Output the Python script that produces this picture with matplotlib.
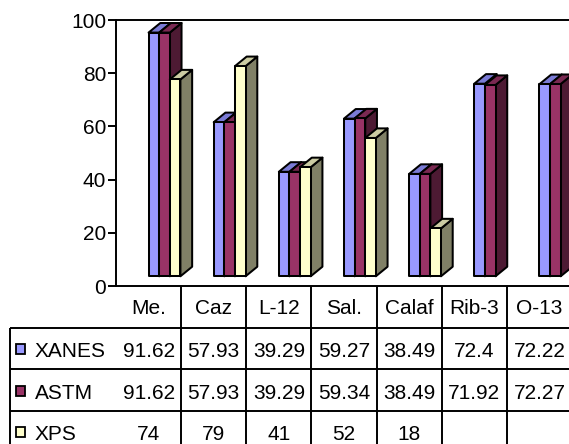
import matplotlib
matplotlib.use('Agg')
import matplotlib.pyplot as plt
from matplotlib.patches import Polygon, Rectangle

plt.rcParams['font.family'] = ['Liberation Sans', 'DejaVu Sans']

categories = ['Me.', 'Caz', 'L-12', 'Sal.', 'Calaf', 'Rib-3', 'O-13']
series_names = ['XANES', 'ASTM', 'XPS']
xanes = [91.62, 57.93, 39.29, 59.27, 38.49, 72.4, 72.22]
astm = [91.62, 57.93, 39.29, 59.34, 38.49, 71.92, 72.27]
xps = [74, 79, 41, 52, 18, None, None]
yticks = [0, 20, 40, 60, 80, 100]

# front, top, side colours for each series
faces = [('#9999ff', '#7b7bd6', '#4d4d80'),
         ('#993366', '#7a2952', '#4d1a33'),
         ('#ffffcc', '#cccca3', '#808066')]

W, H = 569, 444
fig = plt.figure(figsize=(W / 100, H / 100), dpi=100)
fig.patch.set_facecolor('white')

x0_px, col_px = 116, 65.14
y0_px, y100_px = 286, 20
ax = fig.add_axes([x0_px / W, (H - y0_px) / H, 7 * col_px / W, (y0_px - y100_px) / H])
ax.set_xlim(0, 7)
ax.set_ylim(0, 100)
ax.set_facecolor('white')
for s in ['left', 'top', 'bottom']:
    ax.spines[s].set_linewidth(1.4)
ax.spines['right'].set_visible(False)
ax.set_xticks([])
ax.set_yticks(yticks)
ax.tick_params(axis='y', length=6, width=1.4, labelsize=15, pad=1)

lw = 1.45
bw = 0.163          # bar width
off = 0.5           # group offset inside a category
base = 3.65         # floor height of the bars
dx, dy = 0.18, 3.6  # depth of the 3d bars


def bar3d(x, h, cols):
    front, top, side = cols
    b = base
    ax.add_patch(Polygon([(x + bw, b), (x + bw + dx, b + dy), (x + bw + dx, b + h + dy), (x + bw, b + h)],
                         closed=True, fc=side, ec='black', lw=lw, joinstyle='round'))
    ax.add_patch(Polygon([(x, b + h), (x + dx, b + h + dy), (x + bw + dx, b + h + dy), (x + bw, b + h)],
                         closed=True, fc=top, ec='black', lw=lw, joinstyle='round'))
    ax.add_patch(Rectangle((x, b), bw, h, fc=front, ec='black', lw=lw, joinstyle='round'))


series = [xanes, astm, xps]
for i in range(len(categories)):
    for k, vals in enumerate(series):
        if vals[i] is None:
            continue
        bar3d(i + off + k * bw, vals[i], faces[k])

# data table under the chart
row_px = 41.5
tab_bottom = y0_px + 4 * row_px
left_px = 10
u_left = (left_px - x0_px) / col_px
tx = fig.add_axes([left_px / W, (H - tab_bottom) / H, (7 * col_px + x0_px - left_px) / W, 4 * row_px / H])
tx.set_xlim(u_left, 7)
tx.set_ylim(4, 0)
tx.axis('off')

tl = dict(color='black', lw=1.4, solid_capstyle='butt', clip_on=False)
for r in [1, 2, 3]:
    tx.plot([u_left, 7], [r, r], **tl)
tx.plot([u_left, u_left], [1, 4], **tl)
for c in range(1, 8):
    tx.plot([c, c], [0, 4], **tl)

for i, name in enumerate(categories):
    tx.text(i + 0.5, 0.55, name, ha='center', va='center', fontsize=15)

key_w = 9 / col_px
for k, (name, vals) in enumerate(zip(series_names, series)):
    r = k + 1.5
    kx = (16 - x0_px) / col_px
    tx.add_patch(Rectangle((kx, r - 0.1), key_w, 0.24, fc=faces[k][0], ec='black', lw=1.3))
    tx.text((35 - x0_px) / col_px, r + 0.08, name, ha='left', va='center', fontsize=15)
    for i, v in enumerate(vals):
        if v is None:
            continue
        tx.text(i + 0.5, r + 0.08, '%g' % v, ha='center', va='center', fontsize=15)

fig.savefig('out.png', dpi=100)
